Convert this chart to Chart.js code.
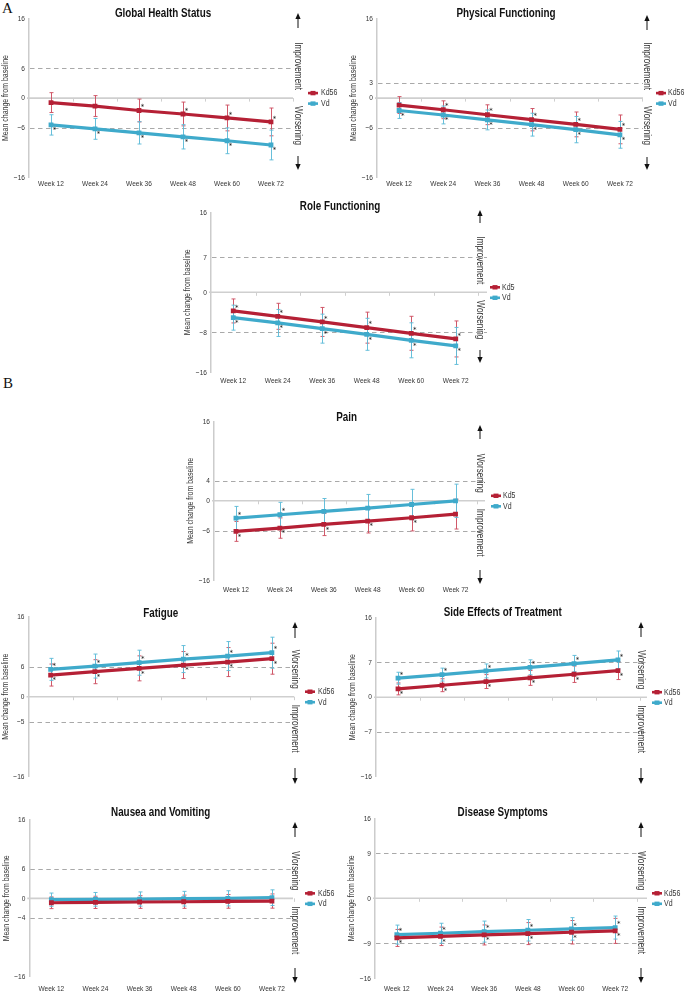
<!DOCTYPE html>
<html><head><meta charset="utf-8">
<script src="https://cdn.jsdelivr.net/npm/chart.js@4.4.1/dist/chart.umd.min.js"></script>
<style>
html,body{margin:0;padding:0;background:#fff;}
#page{position:relative;width:685px;height:992px;overflow:hidden;background:#fff;}
#page canvas{position:absolute;}
.lab{position:absolute;font-family:"Liberation Serif","Times New Roman",serif;font-size:15px;color:#111;line-height:15px;}
</style></head><body>
<div id="page">
<div class="lab" style="left:2px;top:1px">A</div>
<div class="lab" style="left:3px;top:376px">B</div>
</div>
<script>
// ---------- data ----------
const weeks = ['Week 12','Week 24','Week 36','Week 48','Week 60','Week 72'];
const seriesNames = ['Kd56','Vd'];

const ghsKd56    = [-0.9, -1.6, -2.5, -3.2, -4.0, -4.8];
const ghsKd56Err = [2.0, 2.1, 2.3, 2.4, 2.6, 2.8];
const ghsVd      = [-5.4, -6.2, -7.0, -7.8, -8.6, -9.45];
const ghsVdErr   = [2.05, 2.1, 2.25, 2.45, 2.6, 3.0];
const ghsKd56Sig = [0,0,1,1,1,1];
const ghsVdSig   = [1,1,1,1,1,1];
const ghsRef     = [6, -6];

const pfKd56    = [-1.4, -2.35, -3.35, -4.35, -5.3, -6.3];
const pfKd56Err = [1.7, 1.8, 2.0, 2.25, 2.5, 2.9];
const pfVd      = [-2.5, -3.4, -4.4, -5.35, -6.35, -7.4];
const pfVdErr   = [1.6, 1.8, 2.0, 2.3, 2.65, 2.7];
const pfKd56Sig = [0,1,1,1,1,1];
const pfVdSig   = [1,1,1,1,1,1];
const pfRef     = [3, -6];

const rfKd56    = [-3.73, -4.8, -5.93, -7.07, -8.2, -9.33];
const rfKd56Err = [2.4, 2.6, 2.9, 3.1, 3.4, 3.6];
const rfVd      = [-5.07, -6.13, -7.27, -8.4, -9.6, -10.73];
const rfVdErr   = [2.5, 2.7, 2.9, 3.2, 3.5, 3.7];
const rfKd56Sig = [1,1,1,1,1,1];
const rfVdSig   = [1,1,1,1,1,1];
const rfRef     = [7, -8];

const painKd56    = [-6.16, -5.49, -4.75, -4.08, -3.41, -2.68];
const painKd56Err = [2.0, 2.05, 2.25, 2.4, 2.65, 3.0];
const painVd      = [-3.48, -2.81, -2.14, -1.47, -0.74, 0.0];
const painVdErr   = [2.35, 2.5, 2.6, 2.75, 3.05, 3.35];
const painKd56Sig = [1,1,1,1,1,0];
const painVdSig   = [1,1,0,0,0,0];
const painRef     = [4, -6];

const faKd56    = [4.33, 5.0, 5.67, 6.33, 6.93, 7.6];
const faKd56Err = [2.2, 2.4, 2.5, 2.7, 2.9, 3.1];
const faVd      = [5.47, 6.13, 6.8, 7.53, 8.13, 8.8];
const faVdErr   = [2.2, 2.4, 2.5, 2.7, 2.9, 3.1];
const faKd56Sig = [1,1,1,1,1,1];
const faVdSig   = [1,1,1,1,1,1];
const faRef     = [6, -5];

const seKd56    = [1.67, 2.41, 3.15, 3.88, 4.62, 5.35];
const seKd56Err = [1.2, 1.3, 1.4, 1.5, 1.65, 1.8];
const seVd      = [3.82, 4.55, 5.29, 6.02, 6.76, 7.5];
const seVdErr   = [1.2, 1.3, 1.4, 1.5, 1.65, 1.8];
const seKd56Sig = [1,1,1,1,1,1];
const seVdSig   = [1,1,1,1,1,1];
const seRef     = [7, -7];

const nvKd56    = [-0.9, -0.82, -0.75, -0.69, -0.62, -0.55];
const nvKd56Err = [1.2, 1.25, 1.3, 1.35, 1.4, 1.45];
const nvVd      = [-0.27, -0.2, -0.14, -0.07, 0.0, 0.14];
const nvVdErr   = [1.35, 1.4, 1.45, 1.5, 1.55, 1.6];
const nvKd56Sig = [0,0,0,0,0,0];
const nvVdSig   = [0,0,0,0,0,0];
const nvRef     = [6, -4];

const dsKd56    = [-7.93, -7.6, -7.33, -7.06, -6.79, -6.52];
const dsKd56Err = [1.7, 1.85, 2.0, 2.2, 2.35, 2.5];
const dsVd      = [-7.26, -6.99, -6.66, -6.39, -6.12, -5.85];
const dsVdErr   = [1.9, 2.0, 2.1, 2.15, 2.25, 2.3];
const dsKd56Sig = [1,1,1,1,1,1];
const dsVdSig   = [1,1,1,1,1,1];
const dsRef     = [9, -9];

const yLimits = [-16, 16];

// ---------- styles ----------
const RED = '#b52035', BLUE = '#3faacb';
const RED_ERR = 'rgba(205,80,98,0.95)', BLUE_ERR = 'rgba(95,188,216,0.95)';
const NARROW = '"Liberation Sans", Arial, sans-serif';
const COND = 0.82;
const TXT = '#333';

const panels = [
 {title:'Global Health Status', kd:ghsKd56, kdE:ghsKd56Err, vd:ghsVd, vdE:ghsVdErr, kdS:ghsKd56Sig, vdS:ghsVdSig, ref:ghsRef,
  cx:0, cy:0, cw:340, ch:196, L:29, R:293, T:18.7, B:177.5, axEnd:293, tX:163, tY:14, aX:298, up:[13,28], dn:[156,170],
  words:['Improvement','Worsening'], legX:308, legTX:321, showX:true, labY:183.3},
 {title:'Physical Functioning', kd:pfKd56, kdE:pfKd56Err, vd:pfVd, vdE:pfVdErr, kdS:pfKd56Sig, vdS:pfVdSig, ref:pfRef,
  cx:340, cy:0, cw:345, ch:196, L:377, R:642, T:18.7, B:177.5, axEnd:643, tX:506, tY:14, aX:647, up:[15,30], dn:[157,170],
  words:['Improvement','Worsening'], legX:656, legTX:668, showX:true, labY:183.3},
 {title:'Role Functioning', kd:rfKd56, kdE:rfKd56Err, vd:rfVd, vdE:rfVdErr, kdS:rfKd56Sig, vdS:rfVdSig, ref:rfRef,
  cx:170, cy:196, cw:345, ch:194, L:211, R:478, T:212.3, B:372.3, axEnd:487, tX:340, tY:206.7, aX:480, up:[210,223], dn:[350,363],
  words:['Improvement','Worsening'], legX:490, legTX:502, showX:true, labY:381},
 {title:'Pain', kd:painKd56, kdE:painKd56Err, vd:painVd, vdE:painVdErr, kdS:painKd56Sig, vdS:painVdSig, ref:painRef,
  cx:170, cy:395, cw:345, ch:205, L:214, R:477.5, T:421.3, B:580.3, axEnd:485, tX:346.7, tY:418, aX:480, up:[425,439], dn:[570,584],
  words:['Worsening','Improvement'], legX:491, legTX:503, showX:true, labY:590},
 {title:'Fatigue', kd:faKd56, kdE:faKd56Err, vd:faVd, vdE:faVdErr, kdS:faKd56Sig, vdS:faVdSig, ref:faRef,
  cx:0, cy:600, cw:340, ch:192, L:28.5, R:294, T:616.7, B:776.7, axEnd:294, tX:160.7, tY:613.3, aX:295, up:[622,638], dn:[768,784],
  words:['Worsening','Improvement'], legX:305, legTX:318, showX:false, labY:786},
 {title:'Side Effects of Treatment', kd:seKd56, kdE:seKd56Err, vd:seVd, vdE:seVdErr, kdS:seKd56Sig, vdS:seVdSig, ref:seRef,
  cx:340, cy:600, cw:345, ch:192, L:376, R:640, T:617.7, B:776.7, axEnd:647, tX:502.7, tY:613, aX:641, up:[622,637], dn:[768,784],
  words:['Worsening','Improvement'], legX:652, legTX:664, showX:false, labY:786},
 {title:'Nausea and Vomiting', kd:nvKd56, kdE:nvKd56Err, vd:nvVd, vdE:nvVdErr, kdS:nvKd56Sig, vdS:nvVdSig, ref:nvRef,
  cx:0, cy:795, cw:340, ch:197, L:29.3, R:294, T:820, B:976.7, axEnd:293, tX:160.7, tY:812.7, aX:295, up:[822,837], dn:[968,983],
  words:['Worsening','Improvement'], legX:305, legTX:318, showX:true, labY:989},
 {title:'Disease Symptoms', kd:dsKd56, kdE:dsKd56Err, vd:dsVd, vdE:dsVdErr, kdS:dsKd56Sig, vdS:dsVdSig, ref:dsRef,
  cx:340, cy:795, cw:345, ch:197, L:375, R:637, T:818.3, B:978.3, axEnd:647, tX:502.7, tY:812.7, aX:641, up:[822,837], dn:[968,983],
  words:['Worsening','Improvement'], legX:652, legTX:664, showX:true, labY:989}
];

const fmt = v => v < 0 ? '\u2212' + Math.abs(v) : String(v);
const YW = 20, XH = 16, XFONT = 8;

// draw "Liberation Sans" text horizontally condensed (narrow face look-alike)
function condenseCtx(ctx){
  if (ctx.__cond) return;
  ctx.__cond = true;
  const orig = ctx.fillText;
  ctx.fillText = function(t, x, y, mw){
    if (this.font.indexOf('Liberation Sans') >= 0){
      this.save(); this.translate(x, y); this.scale(COND, 1);
      if (mw === undefined) orig.call(this, t, 0, 0); else orig.call(this, t, 0, 0, mw / COND);
      this.restore();
    } else if (mw === undefined) orig.call(this, t, x, y);
    else orig.call(this, t, x, y, mw);
  };
}

function arrow(ctx, x, y1, y2, upDir){
  ctx.save();
  ctx.strokeStyle = '#111'; ctx.fillStyle = '#111'; ctx.lineWidth = 1;
  ctx.beginPath();
  if (upDir){ ctx.moveTo(x, y2); ctx.lineTo(x, y1 + 4); }
  else { ctx.moveTo(x, y1); ctx.lineTo(x, y2 - 4); }
  ctx.stroke();
  ctx.beginPath();
  if (upDir){ ctx.moveTo(x, y1); ctx.lineTo(x - 2.6, y1 + 6); ctx.lineTo(x + 2.6, y1 + 6); }
  else { ctx.moveTo(x, y2); ctx.lineTo(x - 2.6, y2 - 6); ctx.lineTo(x + 2.6, y2 - 6); }
  ctx.closePath(); ctx.fill();
  ctx.restore();
}

function makePlugin(p){
  return {
    id: 'panelDeco',
    beforeDatasetsDraw(chart){
      const ctx = chart.ctx, ys = chart.scales.y, xs = chart.scales.x, ca = chart.chartArea;
      const xEnd = p.axEnd - p.cx;
      ctx.save();
      ctx.strokeStyle = '#a9a9a9'; ctx.lineWidth = 1; ctx.setLineDash([4.5, 3.5]);
      p.ref.forEach(v => {
        const y = Math.round(ys.getPixelForValue(v)) + 0.5;
        ctx.beginPath(); ctx.moveTo(ca.left + 1, y); ctx.lineTo(xEnd, y); ctx.stroke();
      });
      ctx.setLineDash([]);
      const y0 = ys.getPixelForValue(0);
      ctx.strokeStyle = '#cfcfcf'; ctx.lineWidth = 1.6;
      ctx.beginPath(); ctx.moveTo(ca.left - 2, y0); ctx.lineTo(xEnd, y0); ctx.stroke();
      ctx.lineWidth = 1;
      for (let i = 0; i < weeks.length; i++){
        const a = xs.getPixelForTick(i), b = i < weeks.length - 1 ? xs.getPixelForTick(i + 1) : a + (a - xs.getPixelForTick(i - 1));
        const x = Math.round((a + b) / 2) + 0.5;
        ctx.beginPath(); ctx.moveTo(x, y0); ctx.lineTo(x, y0 + 3.5); ctx.stroke();
      }
      chart.data.datasets.forEach((ds, di) => {
        const meta = chart.getDatasetMeta(di);
        ctx.strokeStyle = ds.errColor; ctx.lineWidth = 1;
        meta.data.forEach((pt, i) => {
          const v = ds.data[i], e = ds.err[i];
          const x = Math.round(pt.x) + 0.5;
          const yt = ys.getPixelForValue(v + e), yb = ys.getPixelForValue(v - e);
          ctx.beginPath();
          ctx.moveTo(x, yt); ctx.lineTo(x, yb);
          ctx.moveTo(x - 2, yt); ctx.lineTo(x + 2, yt);
          ctx.moveTo(x - 2, yb); ctx.lineTo(x + 2, yb);
          ctx.stroke();
        });
      });
      ctx.restore();
    },
    afterDatasetsDraw(chart){
      const ctx = chart.ctx;
      ctx.save();
      ctx.fillStyle = '#111'; ctx.font = '7px "DejaVu Sans", sans-serif';
      ctx.textAlign = 'center'; ctx.textBaseline = 'middle';
      chart.data.datasets.forEach((ds, di) => {
        const meta = chart.getDatasetMeta(di);
        meta.data.forEach((pt, i) => {
          if (!ds.sig[i]) return;
          ctx.fillText('*', pt.x + 3.6, pt.y + ds.sigDir * 4.4 + 1.2);
        });
      });
      ctx.restore();
    },
    afterDraw(chart){
      const ctx = chart.ctx, ys = chart.scales.y, ca = chart.chartArea;
      const y0 = ys.getPixelForValue(0);
      ctx.save();
      ctx.translate(-p.cx, -p.cy);
      const Y0 = y0 + p.cy;
      ctx.fillStyle = '#111'; ctx.font = 'bold 12px ' + NARROW;
      ctx.textAlign = 'center'; ctx.textBaseline = 'middle';
      ctx.fillText(p.title, p.tX, p.tY);
      ctx.save();
      ctx.translate(p.L - 23, (ca.top + ca.bottom) / 2 + p.cy);
      ctx.rotate(-Math.PI / 2);
      ctx.fillStyle = TXT; ctx.font = '8.5px ' + NARROW;
      ctx.fillText('Mean change from baseline', 0, 0);
      ctx.restore();
      ctx.fillStyle = TXT; ctx.font = '10px ' + NARROW; ctx.textBaseline = 'middle';
      ctx.save(); ctx.translate(p.aX, Y0 - 8); ctx.rotate(Math.PI / 2); ctx.textAlign = 'right';
      ctx.fillText(p.words[0], 0, 0); ctx.restore();
      ctx.save(); ctx.translate(p.aX, Y0 + 8); ctx.rotate(Math.PI / 2); ctx.textAlign = 'left';
      ctx.fillText(p.words[1], 0, 0); ctx.restore();
      arrow(ctx, p.aX, p.up[0], p.up[1], true);
      arrow(ctx, p.aX, p.dn[0], p.dn[1], false);
      chart.data.datasets.slice().sort((a, b) => a.legendIndex - b.legendIndex).forEach((ds, k) => {
        const ly = Y0 - 5 + k * 10.5;
        ctx.strokeStyle = ds.borderColor; ctx.lineWidth = 2.6;
        ctx.beginPath(); ctx.moveTo(p.legX, ly); ctx.lineTo(p.legX + 10, ly); ctx.stroke();
        ctx.fillStyle = ds.borderColor; ctx.fillRect(p.legX + 2.5, ly - 2.2, 5, 4.4);
        ctx.fillStyle = TXT; ctx.font = '8.5px ' + NARROW; ctx.textAlign = 'left';
        ctx.fillText(ds.label, p.legTX, ly);
      });
      ctx.restore();
    }
  };
}

const page = document.getElementById('page');
panels.forEach(p => {
  const c = document.createElement('canvas');
  c.width = p.cw; c.height = p.ch;
  c.style.left = p.cx + 'px'; c.style.top = p.cy + 'px';
  c.style.width = p.cw + 'px'; c.style.height = p.ch + 'px';
  page.appendChild(c);
  condenseCtx(c.getContext('2d'));
  const kdUpper = p.kd.reduce((a, b) => a + b, 0) > p.vd.reduce((a, b) => a + b, 0);
  const padLeft = (p.L - p.cx) - YW;
  const padTop = p.T - p.cy;
  const padRight = p.cw - (p.R - p.cx);
  const padBottom = p.ch - (p.B - p.cy) - XH;
  const tickPad = p.labY - p.B - XFONT * 1.2 / 2;
  new Chart(c, {
    type: 'line',
    data: {
      labels: weeks,
      datasets: [
        {label: seriesNames[0], data: p.kd, err: p.kdE, sig: p.kdS, sigDir: kdUpper ? -1 : 1, legendIndex: 0,
         borderColor: RED, backgroundColor: RED, pointBackgroundColor: RED, pointBorderColor: RED, errColor: RED_ERR,
         borderWidth: 3.2, pointStyle: 'rect', pointRadius: 3.4, pointBorderWidth: 0, tension: 0, fill: false, order: 0},
        {label: seriesNames[1], data: p.vd, err: p.vdE, sig: p.vdS, sigDir: kdUpper ? 1 : -1, legendIndex: 1,
         borderColor: BLUE, backgroundColor: BLUE, pointBackgroundColor: BLUE, pointBorderColor: BLUE, errColor: BLUE_ERR,
         borderWidth: 3.2, pointStyle: 'rect', pointRadius: 3.4, pointBorderWidth: 0, tension: 0, fill: false, order: 1}
      ]
    },
    options: {
      responsive: false, animation: false, devicePixelRatio: 1,
      layout: {padding: {left: padLeft, right: padRight, top: padTop, bottom: padBottom}},
      plugins: {legend: {display: false}, tooltip: {enabled: false}, title: {display: false}},
      scales: {
        x: {type: 'category', offset: true,
            grid: {display: false, drawTicks: false}, border: {display: false},
            ticks: {display: p.showX, padding: tickPad, maxRotation: 0, autoSkip: false, color: TXT,
                    font: {family: NARROW, size: XFONT}},
            afterFit(s){ s.height = XH; }},
        y: {min: yLimits[0], max: yLimits[1],
            afterBuildTicks(s){ s.ticks = [yLimits[1], p.ref[0], 0, p.ref[1], yLimits[0]].map(v => ({value: v})); },
            grid: {display: false, drawTicks: false},
            border: {display: true, color: '#cccccc', width: 1.5},
            ticks: {padding: 4, color: TXT, font: {family: NARROW, size: 8}, callback: v => fmt(v)},
            afterFit(s){ s.width = YW; }}
      }
    },
    plugins: [makePlugin(p)]
  });
});
</script>
</body></html>
